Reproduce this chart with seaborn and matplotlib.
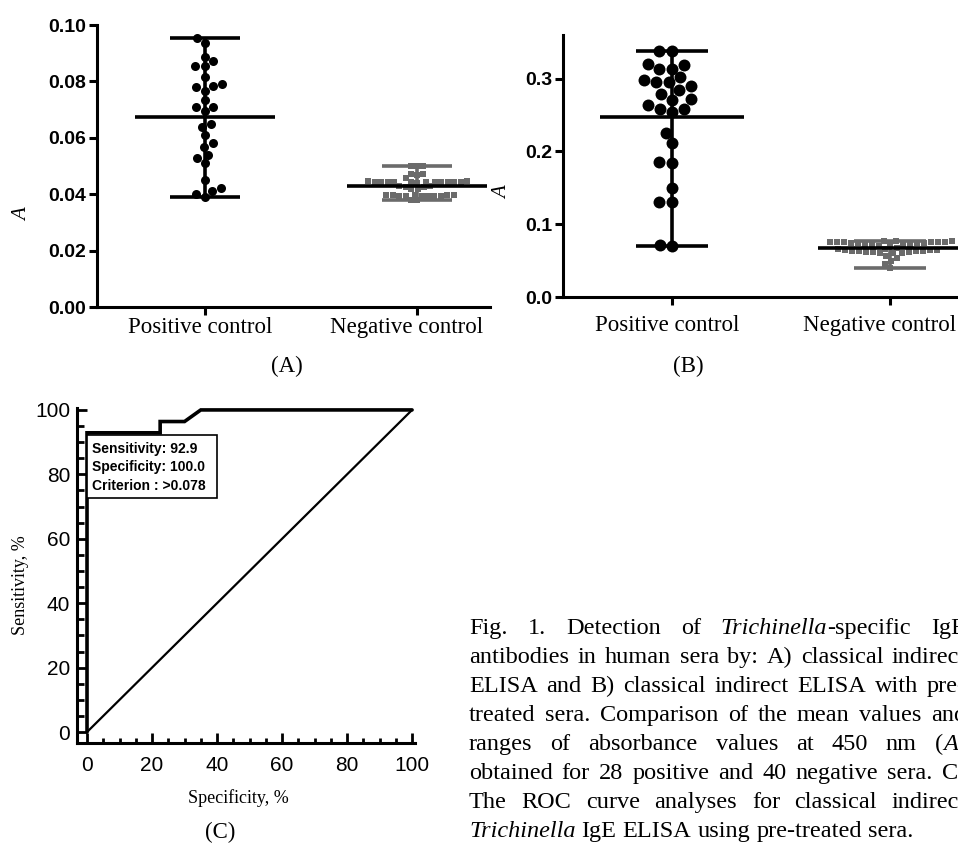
import numpy as np
import pandas as pd
import matplotlib
matplotlib.use("Agg")
import matplotlib.pyplot as plt
import seaborn as sns
from matplotlib.patches import Rectangle
from matplotlib.ticker import MultipleLocator
from matplotlib.transforms import ScaledTranslation

# ---------------- data ----------------
categories = ["Positive control", "Negative control"]

a_positive = [0.0953, 0.0935, 0.0872, 0.0888, 0.0856, 0.0856, 0.0815, 0.0782,
              0.0767, 0.0779, 0.0791, 0.0734, 0.0708, 0.0694, 0.0710, 0.0640,
              0.0649, 0.0610, 0.0583, 0.0569, 0.0540, 0.0527, 0.0510, 0.0449,
              0.0413, 0.0421, 0.0401, 0.0390]
a_negative = [0.0501, 0.0500, 0.0499, 0.0472, 0.0470, 0.0468, 0.0457,
              0.0446, 0.0446, 0.0445, 0.0445, 0.0444, 0.0444, 0.0444, 0.0444,
              0.0443, 0.0443, 0.0443, 0.0442, 0.0442, 0.0441,
              0.0430, 0.0428, 0.0427, 0.0425, 0.0418, 0.0417,
              0.0398, 0.0397, 0.0397, 0.0396, 0.0396, 0.0395, 0.0395, 0.0394,
              0.0394, 0.0393, 0.0393, 0.0381, 0.0378]
b_positive = [0.3385, 0.3385, 0.3183, 0.3137, 0.3137, 0.3206, 0.3018, 0.2949,
              0.2894, 0.2949, 0.2986, 0.2848, 0.2788, 0.2710, 0.2719, 0.2641,
              0.2582, 0.2540, 0.2582, 0.2260, 0.2113, 0.1837, 0.1851, 0.1502,
              0.1309, 0.1309, 0.0698, 0.0721]
b_negative = [0.0770, 0.0768, 0.0765, 0.0762, 0.0760, 0.0757, 0.0755, 0.0752,
              0.0750, 0.0748, 0.0745, 0.0742, 0.0738, 0.0735, 0.0732, 0.0730,
              0.0728, 0.0725, 0.0700, 0.0680, 0.0660, 0.0655, 0.0650, 0.0645,
              0.0640, 0.0637, 0.0634, 0.0630, 0.0627, 0.0624, 0.0620, 0.0615,
              0.0610, 0.0605, 0.0600, 0.0570, 0.0540, 0.0500, 0.0460, 0.0400]

a_yticks = [0.00, 0.02, 0.04, 0.06, 0.08, 0.10]
a_yticklabels = ["0.00", "0.02", "0.04", "0.06", "0.08", "0.10"]
b_yticks = [0.0, 0.1, 0.2, 0.3]
b_yticklabels = ["0.0", "0.1", "0.2", "0.3"]

roc_x = [0, 0, 22.5, 22.5, 30.0, 35.0, 100]
roc_y = [0, 92.9, 92.9, 96.4, 96.4, 100, 100]
diag_x = [0, 100]
diag_y = [0, 100]
c_ticks = [0, 20, 40, 60, 80, 100]
roc_box_lines = ["Sensitivity: 92.9", "Specificity: 100.0", "Criterion : >0.078"]

panel_labels = ["(A)", "(B)", "(C)"]
caption_lines = [
    "Fig. 1. Detection of _Trichinella_-specific IgE",
    "antibodies in human sera by: A) classical indirect",
    "ELISA and B) classical indirect ELISA with pre-",
    "treated sera. Comparison of the mean values and",
    "ranges of absorbance values at 450 nm (_A_)",
    "obtained for 28 positive and 40 negative sera. C)",
    "The ROC curve analyses for classical indirect",
    "_Trichinella_ IgE ELISA using pre-treated sera.",
]

# ---------------- style ----------------
W, H = 958, 843
sns.set_theme(style="ticks")
plt.rcParams["font.family"] = ["Liberation Sans", "DejaVu Sans"]
plt.rcParams.update({
    "axes.edgecolor": "black", "xtick.color": "black", "ytick.color": "black",
    "text.color": "black", "axes.labelcolor": "black",
})
SERIF = ["Liberation Serif", "DejaVu Serif"]
GRAY = "#6b6b6b"

fig = plt.figure(figsize=(W / 100, H / 100), dpi=100)


def px_axes(l, t, r, b):
    return fig.add_axes([l / W, 1 - b / H, (r - l) / W, (b - t) / H])


def dot_panel(ax, pos_vals, neg_vals, dot_size, sq_size, ylim, yticks,
              yticklabels, xlim, xpad):
    df_pos = pd.DataFrame({"group": categories[0], "value": pos_vals})
    df_neg = pd.DataFrame({"group": categories[1], "value": neg_vals})
    sns.swarmplot(data=df_pos, x="group", y="value", order=categories,
                  color="black", marker="o", size=dot_size, linewidth=0,
                  ax=ax, zorder=3, warn_thresh=1.0)
    sns.swarmplot(data=df_neg, x="group", y="value", order=categories,
                  color=GRAY, marker="s", size=sq_size, linewidth=0,
                  ax=ax, zorder=3, warn_thresh=1.0)
    for i, (vals, col) in enumerate([(pos_vals, "black"), (neg_vals, GRAY)]):
        v = np.asarray(vals)
        ax.vlines(i, v.min(), v.max(), color=col, lw=2.6, zorder=4)
        ax.hlines([v.min(), v.max()], i - 0.165, i + 0.165, color=col,
                  lw=2.6, zorder=4)
        ax.hlines(v.mean(), i - 0.33, i + 0.33, color="black", lw=2.6,
                  zorder=5)
    ax.set_xlim(*xlim)
    ax.set_ylim(*ylim)
    ax.set_yticks(yticks)
    ax.set_yticklabels(yticklabels, fontsize=14, fontweight="bold")
    ax.set_xticks([0, 1])
    ax.set_xticklabels(categories, fontsize=16.5, family=SERIF)
    ax.set_xlabel("")
    for s in ["top", "right"]:
        ax.spines[s].set_visible(False)
    for s in ["left", "bottom"]:
        ax.spines[s].set_linewidth(2.2)
    ax.tick_params(axis="both", direction="out", length=5.8, width=2.2)
    ax.tick_params(axis="y", pad=2)
    ax.tick_params(axis="x", pad=xpad)
    # slight left shift of the category labels, as in the reference
    for lab, dx in zip(ax.get_xticklabels(), [-5, -10]):
        lab.set_transform(lab.get_transform() +
                          ScaledTranslation(dx / 100, 0, fig.dpi_scale_trans))
    ax.set_ylabel("A", fontsize=15, fontstyle="italic", family=SERIF)


# ---------- Panel A ----------
ax_a = px_axes(97, 25, 490, 307)
dot_panel(ax_a, a_positive, a_negative, 6.5, 4.4, (0, 0.10), a_yticks,
          a_yticklabels, (-0.509, 1.344), 1.5)
ax_a.yaxis.set_label_coords(-0.165, 0.326)

# ---------- Panel B ----------
ax_b = px_axes(563, 35, 990, 297)
dot_panel(ax_b, b_positive, b_negative, 8.6, 4.8, (0, 0.36), b_yticks,
          b_yticklabels, (-0.5, 1.459), 7)
ax_b.yaxis.set_label_coords(-0.119, 0.397)

# ---------- Panel C (ROC) ----------
ax_c = px_axes(77, 408, 415, 743)
sns.lineplot(x=roc_x, y=roc_y, sort=False, estimator=None, color="black",
             lw=2.6, ax=ax_c, zorder=4, clip_on=False)
sns.lineplot(x=diag_x, y=diag_y, sort=False, estimator=None, color="black",
             lw=1.6, ax=ax_c, zorder=3)
for ln in ax_c.lines:
    ln.set_solid_joinstyle("miter")
ax_c.set_xlim(-3.08, 100.9)
ax_c.set_ylim(-3.4, 100.6)
ax_c.set_xticks(c_ticks)
ax_c.set_yticks(c_ticks)
ax_c.xaxis.set_minor_locator(MultipleLocator(5))
ax_c.yaxis.set_minor_locator(MultipleLocator(5))
ax_c.set_xticklabels([str(t) for t in c_ticks], fontsize=15)
ax_c.set_yticklabels([str(t) for t in c_ticks], fontsize=15)
for s in ["top", "right"]:
    ax_c.spines[s].set_visible(False)
for s in ["left", "bottom"]:
    ax_c.spines[s].set_linewidth(2.2)
ax_c.tick_params(axis="both", which="major", direction="in", length=7.2,
                 width=2.0)
ax_c.tick_params(axis="y", which="minor", direction="in", length=4.8,
                 width=2.0)
ax_c.tick_params(axis="x", which="minor", direction="in", length=3.6,
                 width=2.0)
ax_c.tick_params(axis="y", which="major", pad=5)
ax_c.tick_params(axis="x", which="major", pad=9.4)
ax_c.set_xlabel("Specificity, %", fontsize=13, family=SERIF)
ax_c.set_ylabel("Sensitivity, %", fontsize=13, family=SERIF)
ax_c.xaxis.set_label_coords(0.476, -0.137)
ax_c.yaxis.set_label_coords(-0.142, 0.472)

ax_c.add_patch(Rectangle((0, 72.7), 40, 19.5, facecolor="white",
                         edgecolor="black", lw=1.2, zorder=5))
for k, (txt, yy) in enumerate(zip(roc_box_lines, [87.9, 82.3, 76.4])):
    ax_c.text(1.6, yy, txt, fontsize=10, fontweight="bold", ha="left",
              va="center", zorder=6)

# ---------- panel letters ----------
for lab, (x, y) in zip(panel_labels, [(287, 366), (688, 366), (220, 832)]):
    fig.text(x / W, 1 - y / H, lab, fontsize=16.5, family=SERIF,
             ha="center", va="center")

# ---------- caption (justified) ----------
renderer = fig.canvas.get_renderer()
cap_size = 17.5
cap_left, cap_right = 469, 966
cap_base0, cap_dy = 634, 29
space_px = 0.25 * cap_size * 100 / 72


def seg_list(word):
    parts = word.split("_")
    return [(p, i % 2 == 1) for i, p in enumerate(parts) if p]


for li, line in enumerate(caption_lines):
    y = cap_base0 + li * cap_dy
    words = line.split(" ")
    items = []
    for w in words:
        segs = []
        for s, it in seg_list(w):
            t = fig.text(0, 1 - y / H, s, fontsize=cap_size, family=SERIF,
                         style="italic" if it else "normal", ha="left",
                         va="baseline")
            segs.append((t, t.get_window_extent(renderer).width))
        items.append(segs)
    widths = [sum(wd for _, wd in segs) for segs in items]
    if li == len(caption_lines) - 1:
        gap = space_px
    else:
        gap = (cap_right - cap_left - sum(widths)) / (len(words) - 1)
    x = cap_left
    for segs, wd in zip(items, widths):
        xx = x
        for t, wpx in segs:
            t.set_x(xx / W)
            xx += wpx
        x += wd + gap

fig.savefig("out.png", dpi=100)
